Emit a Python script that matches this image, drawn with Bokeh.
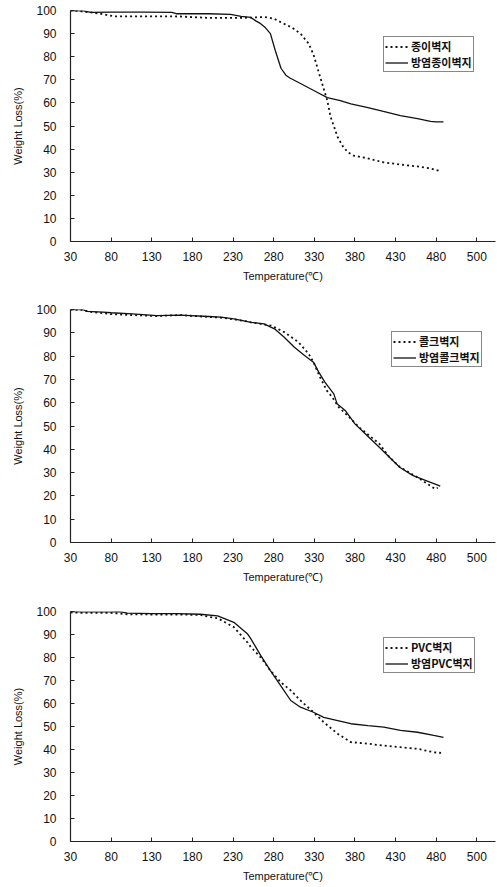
from bokeh.plotting import figure
from bokeh.models import Range1d, FixedTicker, Legend, LegendItem
from bokeh.layouts import column
from bokeh.embed import file_html
from bokeh.resources import INLINE

# ---------------- data ----------------
x_ticks = [30, 80, 130, 180, 230, 280, 330, 380, 430, 480, 530]
x_tick_labels = ["30", "80", "130", "180", "230", "280", "330", "380", "430", "480", "500"]
y_ticks = [0, 10, 20, 30, 40, 50, 60, 70, 80, 90, 100]

# panel 1 : 종이벽지 (dotted) / 방염종이벽지 (solid)
p1_a_name = "종이벽지"
p1_a_T = [30, 40, 46, 55, 67, 83, 120, 165, 200, 230, 252, 268, 280, 292, 303, 313, 323, 329,
          334, 340, 346, 350, 355, 359, 366, 372, 378, 396, 415, 436, 457, 473, 483]
p1_a_W = [100, 99.8, 99.5, 99.2, 98.6, 97.5, 97.5, 97.4, 96.8, 96.8, 96.9, 97.2, 96.5, 94.4, 92.5,
          90, 85.7, 81, 75, 68, 61, 54, 49, 45, 40.7, 38.5, 37.2, 36, 34.3, 33.3, 32.5, 31.6, 30.7]
p1_b_name = "방염종이벽지"
p1_b_T = [30, 46, 55, 80, 120, 155, 160, 200, 227, 240, 252, 258, 264, 270, 276, 282, 289, 295,
          300, 313, 334, 346, 362, 375, 396, 415, 436, 457, 473, 480, 489]
p1_b_W = [100, 99.8, 99.2, 99.3, 99.3, 99.2, 98.6, 98.6, 98.3, 97.5, 97, 95.5, 94.3, 92.5, 90,
          82.7, 75, 72, 70.8, 68.4, 64.5, 62.3, 61, 59.6, 58, 56.3, 54.5, 53.2, 52, 51.8, 51.8]

# panel 2 : 콜크벽지 (dotted) / 방염콜크벽지 (solid)
p2_a_name = "콜크벽지"
p2_a_T = [30, 45, 55, 80, 106, 136, 165, 200, 215, 231, 248, 252, 277, 293, 310.5, 323, 329, 337,
          345.5, 352, 360, 373, 385, 410, 422.5, 435, 460, 478.5, 482]
p2_a_W = [100, 99.8, 99, 98, 97.6, 97.2, 97.6, 96.8, 96.5, 95.8, 94.8, 94.5, 93.1, 90.3, 86, 81,
          77.4, 71, 65.2, 62.4, 58.1, 53.8, 49.5, 42.4, 36.6, 32.5, 27.3, 23, 23.5]
p2_b_name = "방염콜크벽지"
p2_b_T = [30, 45, 50, 70, 80, 106, 136, 165, 200, 215, 231, 248, 252, 268, 281, 293, 305.5, 318,
          329, 335.5, 343, 354, 358, 368, 380, 393, 410, 422.5, 435, 451, 467.5, 478, 485]
p2_b_W = [100, 100, 99.2, 98.9, 98.6, 98.1, 97.4, 97.6, 97, 96.7, 96, 94.8, 94.5, 93.8, 91.7,
          88.1, 83.8, 80.3, 77.4, 73.1, 68.8, 63.8, 59.6, 56.7, 50.9, 46.6, 40.9, 36.6, 32.3,
          28.8, 26.6, 25.2, 24.2]

# panel 3 : PVC벽지 (dotted) / 방염PVC벽지 (solid)
p3_a_name = "PVC벽지"
p3_a_T = [30, 45, 80, 100, 130, 160, 190, 200, 211, 231, 248, 252, 264, 276, 288.6, 301, 313, 329,
          341.6, 358.8, 375, 396, 415.5, 436, 457, 477, 486]
p3_a_W = [99.6, 99.4, 99.4, 98.8, 98.7, 98.7, 98.5, 97.7, 97.1, 93.2, 86.5, 84.5, 80.1, 74.3,
          69.3, 65.7, 61.3, 56.2, 51.9, 46.8, 43.2, 42.5, 41.7, 41, 40.3, 38.8, 38.5]
p3_b_name = "방염PVC벽지"
p3_b_T = [30, 45, 80, 90, 100, 130, 160, 190, 211, 231, 248, 252, 264, 276, 288.6, 301, 313, 329,
          341.6, 358.8, 375, 396, 415.5, 436, 457, 477, 489]
p3_b_W = [100, 99.8, 99.8, 100, 99.3, 99.1, 99.1, 98.8, 98.1, 95.3, 90.2, 88.1, 80.9, 74.3, 67.8,
          61.3, 58.4, 56.2, 54, 52.6, 51.2, 50.4, 49.7, 48.3, 47.5, 46.1, 45.3]

x_title = "Temperature(℃)"
y_title = "Weight Loss(%)"

TICK_FONT = "Liberation Sans"
KR_FONT = "Noto Sans CJK KR"


def make_panel(aT, aW, aname, bT, bW, bname, height, btop, bbottom, leg_xy):
    p = figure(width=497, height=height, output_backend="svg", toolbar_location=None,
               x_range=Range1d(30, 553), y_range=Range1d(0, 100),
               min_border_left=70, min_border_right=2,
               min_border_top=btop, min_border_bottom=bbottom)
    p.outline_line_color = None
    p.grid.visible = False
    p.background_fill_color = "white"
    p.border_fill_color = "white"

    xa = p.xaxis[0]
    xa.ticker = FixedTicker(ticks=x_ticks)
    xa.major_label_overrides = {t: l for t, l in zip(x_ticks, x_tick_labels)}
    xa.axis_label = x_title
    ya = p.yaxis[0]
    ya.ticker = FixedTicker(ticks=y_ticks)
    ya.axis_label = y_title
    for ax in (xa, ya):
        ax.major_tick_in = 4
        ax.major_tick_out = 0
        ax.minor_tick_in = 0
        ax.minor_tick_out = 0
        ax.axis_line_color = "#222222"
        ax.axis_line_width = 1.2
        ax.major_tick_line_color = "#222222"
        ax.major_label_text_font = TICK_FONT
        ax.major_label_text_font_size = "12px"
        ax.major_label_text_color = "#111111"
        ax.axis_label_text_font = TICK_FONT
        ax.axis_label_text_font_size = "11px"
        ax.axis_label_text_font_style = "normal"
        ax.axis_label_text_color = "#111111"
    xa.major_label_standoff = 10
    xa.axis_label_standoff = 6
    ya.major_label_standoff = 14
    ya.axis_label_standoff = 9

    ra = p.line(aT, aW, line_color="#111111", line_width=1.8, line_dash="2 3")
    rb = p.line(bT, bW, line_color="#111111", line_width=1.3)

    leg = Legend(items=[LegendItem(label=aname, renderers=[ra]),
                        LegendItem(label=bname, renderers=[rb])],
                 location=leg_xy, orientation="vertical")
    leg.label_text_font = KR_FONT
    leg.label_text_font_size = "11px"
    leg.label_text_font_style = "bold"
    leg.label_text_color = "#111111"
    leg.label_text_line_height = 1.0
    leg.border_line_color = "#111111"
    leg.border_line_width = 1
    leg.background_fill_color = "white"
    leg.background_fill_alpha = 1
    leg.padding = 1
    leg.margin = 0
    leg.spacing = 0
    leg.label_height = 13
    leg.glyph_height = 13
    leg.glyph_width = 23
    leg.label_standoff = 3
    p.add_layout(leg, "center")
    return p


p1 = make_panel(p1_a_T, p1_a_W, p1_a_name, p1_b_T, p1_b_W, p1_b_name,
                height=300, btop=10, bbottom=59, leg_xy=(313, 169))
p2 = make_panel(p2_a_T, p2_a_W, p2_a_name, p2_b_T, p2_b_W, p2_b_name,
                height=300, btop=9, bbottom=58, leg_xy=(321, 175))
p3 = make_panel(p3_a_T, p3_a_W, p3_a_name, p3_b_T, p3_b_W, p3_b_name,
                height=287, btop=11, bbottom=46, leg_xy=(313, 168))

layout = column(p1, p2, p3, spacing=0)
open("out.html", "w").write(file_html(layout, INLINE))
